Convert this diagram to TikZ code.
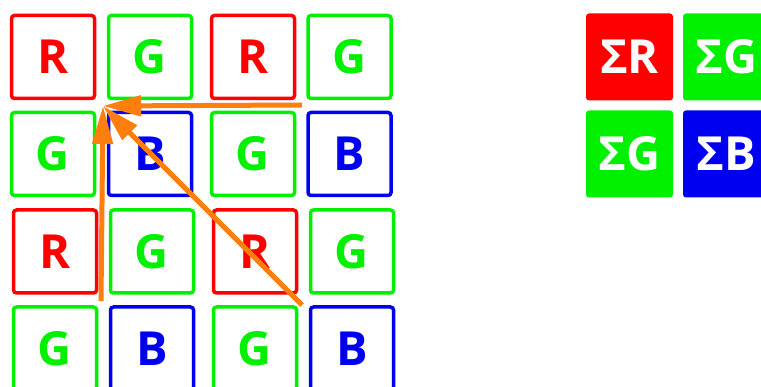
\documentclass[tikz,border=0pt]{standalone}
\usepackage{fontspec}
\setmainfont{Open Sans}
\usetikzlibrary{arrows.meta}
\definecolor{cr}{HTML}{FF0000}
\definecolor{cg}{HTML}{00F000}
\definecolor{cb}{HTML}{0000F0}
\definecolor{corange}{HTML}{FF7F0E}
\tikzset{
  cell/.style={draw=#1, text=#1, line width=3.5pt, rounded corners=3pt, minimum width=83pt, minimum height=83pt, inner sep=0pt, font=\fontsize{47}{50}\selectfont\bfseries},
  sumcell/.style={fill=#1, text=white, rounded corners=3pt, minimum width=87pt, minimum height=87pt, inner sep=0pt, font=\fontsize{47}{50}\selectfont\bfseries},
  arr/.style={draw=corange, line width=5pt, -{Triangle[length=38pt, width=20pt]}}
}
\begin{document}
\begin{tikzpicture}[x=1pt,y=-1pt]
\useasboundingbox (0,0) rectangle (761,387);
\clip (0,0) rectangle (761,387);
% row 1
\node[cell=cr] (a1) at (53,57) {R};
\node[cell=cg] (a2) at (150,57) {G};
\node[cell=cr] (a3) at (253,57) {R};
\node[cell=cg] (a4) at (349.5,57) {G};
% row 2
\node[cell=cg] (b1) at (53,154) {G};
\node[cell=cb] (b2) at (150,154) {B};
\node[cell=cg] (b3) at (253,154) {G};
\node[cell=cb] (b4) at (349.5,154) {B};
% row 3
\node[cell=cr] (c1) at (55,251.5) {R};
\node[cell=cg] (c2) at (152,251.5) {G};
\node[cell=cr] (c3) at (255,251.5) {R};
\node[cell=cg] (c4) at (352,251.5) {G};
% row 4
\node[cell=cg] (d1) at (55,348.5) {G};
\node[cell=cb] (d2) at (152,348.5) {B};
\node[cell=cg] (d3) at (255,348.5) {G};
\node[cell=cb] (d4) at (352,348.5) {B};
% sums
\node[sumcell=cr] (sr) at (629.5,57) {ΣR};
\node[sumcell=cg] (sg1) at (726.5,57) {ΣG};
\node[sumcell=cg] (sg2) at (629.5,154) {ΣG};
\node[sumcell=cb] (sb) at (726.5,154) {ΣB};
% arrows
\coordinate (tgt) at (103,106);
\coordinate (sh) at (302,105);
\coordinate (sv) at (101,301);
\coordinate (sd) at (302,305);
\draw[arr] (sh) -- (tgt);
\draw[arr] (sv) -- (tgt);
\draw[arr] (sd) -- (tgt);
\end{tikzpicture}
\end{document}
